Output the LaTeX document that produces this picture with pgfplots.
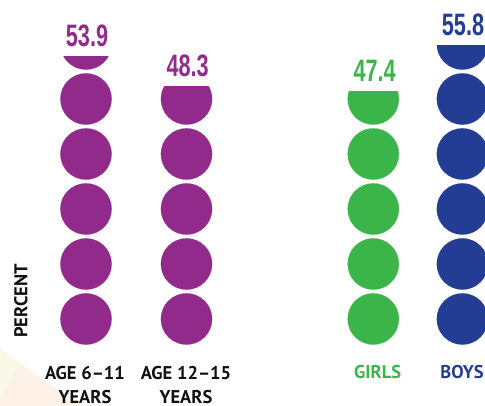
\documentclass[border=0pt]{standalone}
\usepackage{pgfplots}
\pgfplotsset{compat=1.18}
\usepackage{fontspec}
\setmainfont{PT Sans}
\newfontfamily\numfont[FakeStretch=0.7]{Liberation Sans}
\definecolor{cpurple}{HTML}{922A8C}
\definecolor{cgreen}{HTML}{3BB54A}
\definecolor{cblue}{HTML}{233D94}
\definecolor{bgy}{HTML}{FAF8E6}
\definecolor{bgp}{HTML}{FDF1E8}
\definecolor{ctext}{HTML}{111111}
\begin{document}
\begin{tikzpicture}
\useasboundingbox (0,0) rectangle (485pt,406pt);
\begin{axis}[x=1pt,y=5.5pt,xmin=0,xmax=485,ymin=-9.82,ymax=64,
  hide axis,clip=false,clip marker paths=true,at={(0,0)},anchor=south west,
  dots/.style={only marks,mark=*,mark size=25.6pt,line width=0.2pt},
  mask/.style={fill=white,draw=none,mark=none}]
% background shapes
\addplot[fill=bgp,draw=none,mark=none] coordinates {(0,0.55)(21,-2.18)(80,-9.82)(0,-9.82)} -- cycle;
\addplot[fill=bgy,draw=none,mark=none] coordinates {(0,0.55)(21,-2.18)(0,-8.0)} -- cycle;
% circles (each = 10 percent); the top one is cut at the value
\addplot[dots,cpurple] coordinates {(86,6)(86,16)(86,26)(86,36)(86,46)(86,56)};
\addplot[mask] coordinates {(58,53.9)(114,53.9)(114,64)(58,64)} -- cycle;
\addplot[dots,cpurple] coordinates {(186.5,6)(186.5,16)(186.5,26)(186.5,36)(186.5,46)};
\addplot[mask] coordinates {(158,48.3)(215,48.3)(215,64)(158,64)} -- cycle;
\addplot[dots,cgreen] coordinates {(373.3,6)(373.3,16)(373.3,26)(373.3,36)(373.3,46)};
\addplot[mask] coordinates {(345,47.4)(402,47.4)(402,64)(345,64)} -- cycle;
\addplot[dots,cblue] coordinates {(462.4,6)(462.4,16)(462.4,26)(462.4,36)(462.4,46)(462.4,56)};
\addplot[mask] coordinates {(434,55.8)(491,55.8)(491,64)(434,64)} -- cycle;
% value labels
\tikzset{val/.style={anchor=base,yshift=9.5pt,font=\numfont\bfseries\fontsize{31}{31}\selectfont}}
\node[val,cpurple] at (axis cs:87,53.9) {53.9};
\node[val,cpurple] at (axis cs:187.7,48.3) {48.3};
\node[val,cgreen] at (axis cs:374.7,47.4) {47.4};
\node[val,cblue] at (axis cs:463,55.8) {55.8};
% category labels
\tikzset{cat/.style={anchor=base,font=\bfseries\fontsize{18.5}{20}\selectfont}}
\node[cat,ctext] at (axis cs:85,-4.96) {AGE 6--11};
\node[cat,ctext] at (axis cs:85,-9.33) {YEARS};
\node[cat,ctext] at (axis cs:186,-4.96) {AGE 12--15};
\node[cat,ctext] at (axis cs:186,-9.33) {YEARS};
\node[cat,cgreen] at (axis cs:377.7,-4.87) {GIRLS};
\node[cat,cblue] at (axis cs:462,-4.87) {BOYS};
\node[cat,ctext,rotate=90] at (axis cs:27.3,9.27) {PERCENT};
\end{axis}
\end{tikzpicture}
\end{document}
